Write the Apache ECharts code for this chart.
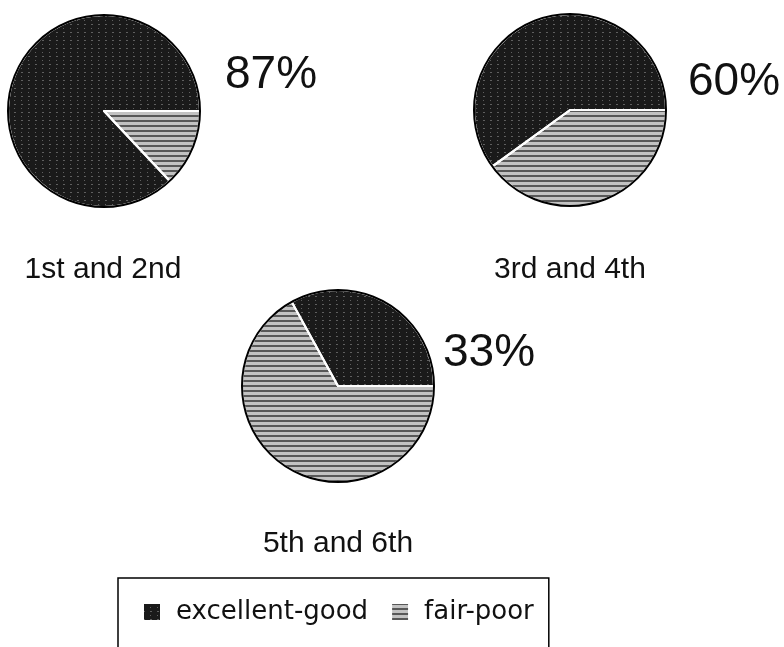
<!DOCTYPE html>
<html>

<head>
    <meta charset="utf-8">
    <script src="https://cdn.jsdelivr.net/npm/echarts@6/dist/echarts.min.js"></script>
</head>

<body style="margin:0;background:#fff;">
    <div id="main" style="width: 784px;height:647px;"></div>
    <script type="text/javascript">
        // data
        var groups = ['1st and 2nd', '3rd and 4th', '5th and 6th'];
        var excellentGood = [87, 60, 33];
        var fairPoor = [13, 40, 67];
        var seriesNames = ['excellent-good', 'fair-poor'];

        // layout
        var centers = [[104, 111], [570, 110], [338, 386]];
        var radius = 96;
        var groupLabelPos = [[103, 255], [570, 255], [338, 529]];
        var pctLabelPos = [[271, 52], [734, 59], [489, 330]];

        var darkStyle = {
            color: '#1a1a1a',
            borderColor: '#fff',
            borderWidth: 2,
            decal: {
                symbol: 'rect',
                symbolSize: 1,
                color: 'rgba(255,255,255,0.3)',
                dashArrayX: [[1, 6], [2, 5]],
                dashArrayY: [1, 3]
            }
        };
        var lightStyle = {
            color: '#c2c2c2',
            borderColor: '#fff',
            borderWidth: 2,
            decal: {
                symbol: 'rect',
                symbolSize: 1,
                color: 'rgba(0,0,0,0.55)',
                dashArrayX: [1, 0],
                dashArrayY: [2, 3]
            }
        };

        var series = [];
        var titles = [];
        for (var i = 0; i < groups.length; i++) {
            series.push({
                name: groups[i],
                type: 'pie',
                center: centers[i],
                radius: radius,
                startAngle: 0,
                clockwise: true,
                label: { show: false },
                labelLine: { show: false },
                emphasis: { disabled: true },
                data: [
                    { name: seriesNames[1], value: fairPoor[i], itemStyle: lightStyle },
                    { name: seriesNames[0], value: excellentGood[i], itemStyle: darkStyle }
                ]
            });
            // black rim round each pie
            series.push({
                type: 'pie',
                center: centers[i],
                radius: radius,
                silent: true,
                label: { show: false },
                labelLine: { show: false },
                itemStyle: { color: 'transparent', borderColor: '#000', borderWidth: 2 },
                data: [{ name: 'rim', value: 1 }],
                z: 3
            });
            titles.push({
                text: groups[i],
                left: groupLabelPos[i][0],
                top: groupLabelPos[i][1],
                textAlign: 'center',
                padding: 0,
                textStyle: { fontFamily: 'Liberation Sans', fontSize: 30, fontWeight: 'normal', color: '#111' }
            });
            titles.push({
                text: excellentGood[i] + '%',
                left: pctLabelPos[i][0],
                top: pctLabelPos[i][1],
                textAlign: 'center',
                padding: 0,
                textStyle: { fontFamily: 'Liberation Sans', fontSize: 46, fontWeight: 'normal', color: '#111' }
            });
        }

        var chart = echarts.init(document.getElementById('main'));
        chart.setOption({
            animation: false,
            backgroundColor: '#fff',
            title: titles,
            legend: {
                data: seriesNames,
                icon: 'rect',
                left: 118,
                top: 578,
                orient: 'horizontal',
                itemWidth: 18,
                itemHeight: 18,
                itemGap: 22,
                padding: [21, 15, 40, 24],
                borderColor: '#000',
                borderWidth: 1.5,
                selectedMode: false,
                textStyle: {
                    fontFamily: 'DejaVu Sans',
                    fontSize: 26,
                    color: '#111',
                    padding: [0, 0, 0, 10]
                }
            },
            series: series
        });
    </script>
</body>

</html>
